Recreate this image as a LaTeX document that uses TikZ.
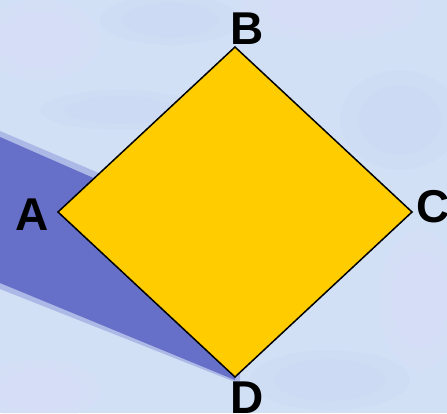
\documentclass[tikz,border=0pt]{standalone}
\usepackage{fontspec}
\setmainfont{Liberation Sans}
\definecolor{bgblue}{HTML}{D2E0F6}
\definecolor{bglav}{HTML}{DCDDF6}
\definecolor{bgdark}{HTML}{C4D4F0}
\definecolor{bandblue}{HTML}{6670C8}
\definecolor{gold}{HTML}{FFCC00}
\tikzset{
  lbl/.style={font=\bfseries\fontsize{46}{46}\selectfont, inner sep=0pt, anchor=base west},
  rhomb/.style={fill=gold, draw=black, line width=1.5pt, line join=miter}
}
\begin{document}
\begin{tikzpicture}[x=1pt,y=-1pt]
\useasboundingbox (0,0) rectangle (447,413);
\fill[bgblue] (0,0) rectangle (447,413);
% soft mottling
\foreach \x/\y/\rx/\ry/\c in {40/40/60/40/bglav, 170/20/70/25/bgdark, 330/10/90/30/bglav, 400/120/60/50/bgdark, 120/110/80/20/bgdark, 420/300/40/70/bglav, 40/390/60/30/bglav, 330/380/80/30/bgdark}
  {\fill[\c, opacity=0.2] (\x,\y) ellipse [x radius=\rx, y radius=\ry];
   \fill[\c, opacity=0.2] (\x,\y) ellipse [x radius=0.7*\rx, y radius=0.7*\ry];}
% blue band
\fill[bandblue, opacity=0.35] (0,131) -- (240,233) -- (240,384) -- (0,289) -- cycle;
\fill[bandblue] (0,137) -- (235,240) -- (235,380) -- (0,283) -- cycle;
% rhombus
\coordinate (pa) at (58,212);
\coordinate (pb) at (235,47);
\coordinate (pc) at (412,212);
\coordinate (pd) at (235,377);
\draw[rhomb] (pa) -- (pb) -- (pc) -- (pd) -- cycle;
% labels
\node[lbl] (la) at (15,230) {A};
\node[lbl] (lb) at (230,44) {B};
\node[lbl] (lc) at (416,222) {C};
\node[lbl] (ld) at (230,413) {D};
\end{tikzpicture}
\end{document}
